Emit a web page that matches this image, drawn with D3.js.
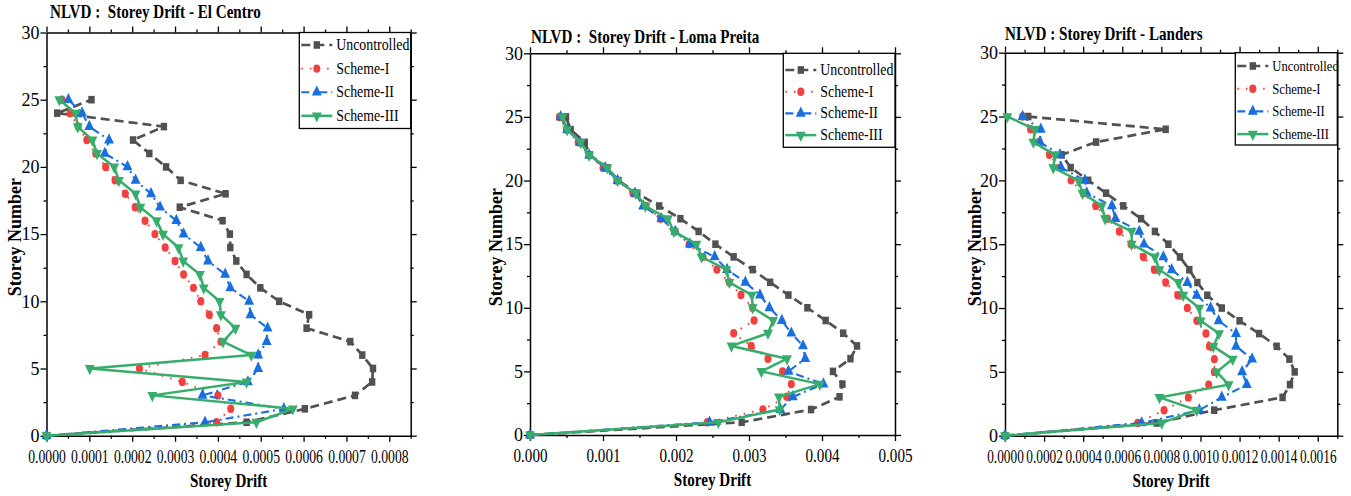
<!DOCTYPE html>
<html>
<head>
<meta charset="utf-8">
<script src="https://cdn.jsdelivr.net/npm/d3@7"></script>
<style>
  body { margin: 0; background: #fff; }
  svg { display: block; font-family: "Liberation Serif", "Times New Roman", serif; }
</style>
</head>
<body>
<svg id="chart" width="1351" height="496"></svg>
<script>
// ---- data -------------------------------------------------------------
const storeys = [0,1,2,3,4,5,6,7,8,9,10,11,12,13,14,15,16,17,18,19,20,21,22,23,24,25];
const seriesNames = ["Uncontrolled", "Scheme-I", "Scheme-II", "Scheme-III"];
const yTicks = [0, 5, 10, 15, 20, 25, 30];

// El Centro (storey 0 .. 25)
const elCentroUncontrolled = [0, 0.000467, 0.000603, 0.00072, 0.00076, 0.000762, 0.000737, 0.000709, 0.000607, 0.000613, 0.000543, 0.000499, 0.000467, 0.000443, 0.000429, 0.000428, 0.000411, 0.000311, 0.000418, 0.000313, 0.000279, 0.00024, 0.000202, 0.000274, 0.000025, 0.000105];
const elCentroSchemeI = [0, 0.000397, 0.00043, 0.0004, 0.000317, 0.000217, 0.00037, 0.000407, 0.000397, 0.00038, 0.00036, 0.000343, 0.00032, 0.0003, 0.000277, 0.000253, 0.00023, 0.000207, 0.000184, 0.00016, 0.000138, 0.000115, 0.000094, 0.000074, 0.000055, 0.000036];
const elCentroSchemeII = [0, 0.00037, 0.000554, 0.000364, 0.00047, 0.000494, 0.000494, 0.000514, 0.000516, 0.000476, 0.000473, 0.000429, 0.000417, 0.000377, 0.00036, 0.00032, 0.000303, 0.000265, 0.000244, 0.000208, 0.000189, 0.000136, 0.000146, 0.0001, 0.000083, 0.000051];
const elCentroSchemeIII = [0, 0.00049, 0.000575, 0.000247, 0.000467, 0.000101, 0.000478, 0.000412, 0.000441, 0.000407, 0.000404, 0.000367, 0.000358, 0.000319, 0.000308, 0.000272, 0.000257, 0.000219, 0.000208, 0.000169, 0.000158, 0.000118, 0.000107, 0.000073, 0.000068, 0.00003];
const elCentroTicks = [0, 0.0001, 0.0002, 0.0003, 0.0004, 0.0005, 0.0006, 0.0007, 0.0008];
const elCentroTickLabels = ["0.0000", "0.0001", "0.0002", "0.0003", "0.0004", "0.0005", "0.0006", "0.0007", "0.0008"];

// Loma Preita
const lomaUncontrolled = [0, 0.0029, 0.00385, 0.00424, 0.00428, 0.00415, 0.00439, 0.00448, 0.00429, 0.00405, 0.0038, 0.00354, 0.00329, 0.00305, 0.00279, 0.00254, 0.00231, 0.00206, 0.00177, 0.00147, 0.00121, 0.00106, 0.00082, 0.00075, 0.000557, 0.000493];
const lomaSchemeI = [0, 0.00243, 0.00319, 0.00352, 0.00358, 0.00346, 0.00326, 0.00303, 0.00279, 0.00307, 0.00305, 0.00289, 0.00273, 0.00256, 0.00237, 0.00218, 0.00199, 0.00179, 0.00159, 0.00141, 0.00119, 0.001, 0.00081, 0.00066, 0.0005, 0.000402];
const lomaSchemeII = [0, 0.00246, 0.00343, 0.0036, 0.00402, 0.00354, 0.00377, 0.00374, 0.00358, 0.00345, 0.00328, 0.00315, 0.00295, 0.0027, 0.00253, 0.00219, 0.00199, 0.0018, 0.00155, 0.00144, 0.0012, 0.00103, 0.00081, 0.000685, 0.00051, 0.00042];
const lomaSchemeIII = [0, 0.00258, 0.00342, 0.00341, 0.00397, 0.00317, 0.00352, 0.00276, 0.00326, 0.00333, 0.00305, 0.00304, 0.00273, 0.00269, 0.00235, 0.00228, 0.00197, 0.00189, 0.00158, 0.00145, 0.0012, 0.00106, 0.00081, 0.000694, 0.00051, 0.000447];
const lomaTicks = [0, 0.001, 0.002, 0.003, 0.004, 0.005];
const lomaTickLabels = ["0.000", "0.001", "0.002", "0.003", "0.004", "0.005"];

// Landers
const landersUncontrolled = [0, 0.000776, 0.00107, 0.00142, 0.001458, 0.001482, 0.001455, 0.00139, 0.0013, 0.0012, 0.001109, 0.001035, 0.000984, 0.000943, 0.000895, 0.000836, 0.000767, 0.000696, 0.000605, 0.000517, 0.000426, 0.000336, 0.00029, 0.000466, 0.000822, 0.000119];
const landersSchemeI = [0, 0.000679, 0.000814, 0.000938, 0.001042, 0.001071, 0.001071, 0.001046, 0.001028, 0.000981, 0.000933, 0.000884, 0.000822, 0.000764, 0.000708, 0.000645, 0.000585, 0.000524, 0.000464, 0.0004, 0.000338, 0.000281, 0.000227, 0.000176, 0.000131, 0.00009];
const landersSchemeII = [0, 0.000699, 0.000994, 0.001109, 0.001237, 0.001213, 0.001264, 0.001182, 0.001182, 0.001093, 0.001052, 0.000981, 0.000933, 0.000853, 0.00081, 0.000711, 0.000687, 0.000565, 0.000547, 0.000418, 0.000409, 0.000287, 0.000281, 0.000179, 0.000183, 0.00009];
const landersSchemeIII = [0, 0.000802, 0.000981, 0.00079, 0.001144, 0.001083, 0.001165, 0.001066, 0.001095, 0.001001, 0.000994, 0.000912, 0.000887, 0.00079, 0.000767, 0.000648, 0.000648, 0.000512, 0.000495, 0.000397, 0.000375, 0.000247, 0.000256, 0.000145, 0.000153, 0.000012];
const landersTicks = [0, 0.0002, 0.0004, 0.0006, 0.0008, 0.001, 0.0012, 0.0014, 0.0016];
const landersTickLabels = ["0.0000", "0.0002", "0.0004", "0.0006", "0.0008", "0.0010", "0.0012", "0.0014", "0.0016"];

// ---- styling of each series ------------------------------------------
const seriesStyles = [
  { color: "#515151", dash: "9,5",     width: 2.7, symbol: d3.symbolSquare,   size: 58, rotate: 0 },
  { color: "#F14040", dash: "1.6,7",   width: 1.9, symbol: d3.symbolCircle,   size: 56, rotate: 0 },
  { color: "#1A6FDF", dash: "8,4,2,4", width: 2.1, symbol: d3.symbolTriangle, size: 60, rotate: 0 },
  { color: "#37AD6B", dash: null,      width: 2.5, symbol: d3.symbolTriangle, size: 60, rotate: 180 }
];

// ---- panel layout ------------------------------------------------------
const panels = [
  { title: "NLVD :  Storey Drift - El Centro", titleX: 50, titleY: 18,
    left: 46.5, right: 410.7, top: 32.5, bottom: 435.7, xMax: 0.00085, minorStep: 0.00005,
    ticks: elCentroTicks, tickLabels: elCentroTickLabels, tickSx: 0.76,
    series: [elCentroUncontrolled, elCentroSchemeI, elCentroSchemeII, elCentroSchemeIII],
    yTitleX: 21, legendX: 299.3, legendH: 96, legendRow0: 12.5, legendRowGap: 23.6, legendFont: 16.5 },
  { title: "NLVD :  Storey Drift - Loma Preita", titleX: 531, titleY: 42.5,
    left: 530, right: 895, top: 53.3, bottom: 435, xMax: 0.005, minorStep: 0.0005,
    ticks: lomaTicks, tickLabels: lomaTickLabels, tickSx: 0.84,
    series: [lomaUncontrolled, lomaSchemeI, lomaSchemeII, lomaSchemeIII],
    yTitleX: 502, legendX: 783.3, legendH: 94, legendRow0: 16.7, legendRowGap: 21.7, legendFont: 16.5 },
  { title: "NLVD : Storey Drift - Landers", titleX: 1005, titleY: 40,
    left: 1005, right: 1337.3, top: 52.7, bottom: 435.7, xMax: 0.0017, minorStep: 0.0001,
    ticks: landersTicks, tickLabels: landersTickLabels, tickSx: 0.74,
    series: [landersUncontrolled, landersSchemeI, landersSchemeII, landersSchemeIII],
    yTitleX: 981, legendX: 1235.3, legendH: 92.3, legendRow0: 13.3, legendRowGap: 22.7, legendFont: 15 }
];

const svg = d3.select("#chart");
const TEXT_SX = 0.84;   // horizontally condensed lettering

function styleAxis(sel, fontSize) {
  sel.attr("font-family", null).attr("font-size", fontSize);
  sel.select(".domain").attr("stroke", "#000").attr("stroke-width", 1.5);
  sel.selectAll(".tick line").attr("stroke", "#000").attr("stroke-width", 1.3);
  sel.selectAll("text").attr("fill", "#000");
}

panels.forEach(p => {
  const g = svg.append("g");
  const x = d3.scaleLinear().domain([0, p.xMax]).range([p.left, p.right]);
  const y = d3.scaleLinear().domain([0, 30]).range([p.bottom, p.top]);

  const majorStep = p.minorStep * 2;
  const xMinor = d3.range(p.minorStep, p.xMax + 1e-12, majorStep);
  const yMinor = [2.5, 7.5, 12.5, 17.5, 22.5, 27.5];

  // minor ticks on all four sides
  const minorAxes = [
    [d3.axisBottom(x).tickValues(xMinor), `translate(0,${p.bottom})`],
    [d3.axisTop(x).tickValues(xMinor), `translate(0,${p.top})`],
    [d3.axisLeft(y).tickValues(yMinor), `translate(${p.left},0)`],
    [d3.axisRight(y).tickValues(yMinor), `translate(${p.right},0)`]
  ];
  minorAxes.forEach(([ax, tr]) => {
    const a = g.append("g").attr("transform", tr)
      .call(ax.tickSize(3).tickSizeOuter(0).tickFormat(""));
    styleAxis(a, 10);
    a.select(".domain").remove();
  });

  // major ticks: labelled bottom and left, bare top and right
  const bottom = g.append("g").attr("transform", `translate(0,${p.bottom})`)
    .call(d3.axisBottom(x).tickValues(p.ticks).tickFormat((d, i) => p.tickLabels[i]).tickSize(6).tickSizeOuter(0));
  styleAxis(bottom, 18);
  bottom.selectAll("text").attr("y", 27.5).attr("dy", null)
    .attr("transform", `scale(${p.tickSx},1)`);

  const top = g.append("g").attr("transform", `translate(0,${p.top})`)
    .call(d3.axisTop(x).tickValues(p.ticks).tickFormat("").tickSize(6).tickSizeOuter(0));
  styleAxis(top, 10);

  const left = g.append("g").attr("transform", `translate(${p.left},0)`)
    .call(d3.axisLeft(y).tickValues(yTicks).tickSize(6).tickSizeOuter(0));
  styleAxis(left, 18);
  left.selectAll("text").attr("x", -7).attr("dy", "0.32em");

  const right = g.append("g").attr("transform", `translate(${p.right},0)`)
    .call(d3.axisRight(y).tickValues(yTicks).tickFormat("").tickSize(6).tickSizeOuter(0));
  styleAxis(right, 10);

  // series: lines first, then markers, in legend order
  const line = d3.line().x(d => x(d.v)).y(d => y(d.s));
  p.series.forEach((vals, k) => {
    const st = seriesStyles[k];
    const pts = storeys.map((s, i) => ({ s, v: vals[i] }));
    g.append("path").datum(pts)
      .attr("d", line)
      .attr("fill", "none")
      .attr("stroke", st.color)
      .attr("stroke-width", st.width)
      .attr("stroke-dasharray", st.dash)
      .attr("stroke-linejoin", "round");
    g.append("g").selectAll("path").data(pts).join("path")
      .attr("d", d3.symbol().type(st.symbol).size(st.size))
      .attr("transform", d => `translate(${x(d.v)},${y(d.s)}) scale(${TEXT_SX},1) rotate(${st.rotate})`)
      .attr("fill", st.color);
  });

  // legend
  const lg = g.append("g").attr("transform", `translate(${p.legendX},${p.top})`);
  lg.append("rect")
    .attr("width", p.right - p.legendX).attr("height", p.legendH)
    .attr("fill", "#fff").attr("stroke", "#000").attr("stroke-width", 1.3);
  seriesNames.forEach((name, k) => {
    const st = seriesStyles[k];
    const ry = p.legendRow0 + k * p.legendRowGap;
    lg.append("line")
      .attr("x1", 2).attr("x2", 33).attr("y1", ry).attr("y2", ry)
      .attr("stroke", st.color).attr("stroke-width", st.width)
      .attr("stroke-dasharray", st.dash);
    lg.append("path")
      .attr("d", d3.symbol().type(st.symbol).size(st.size)())
      .attr("transform", `translate(17.5,${ry}) scale(${TEXT_SX},1) rotate(${st.rotate})`)
      .attr("fill", st.color);
    lg.append("text")
      .attr("transform", `translate(37,${ry + 5}) scale(${TEXT_SX},1)`)
      .attr("font-size", p.legendFont)
      .attr("fill", "#000")
      .text(name);
  });

  // titles
  g.append("text")
    .attr("transform", `translate(${p.titleX},${p.titleY}) scale(${TEXT_SX},1)`)
    .attr("font-size", 18).attr("font-weight", "bold")
    .style("white-space", "pre")
    .text(p.title);

  g.append("text")
    .attr("transform", `translate(${(p.left + p.right) / 2},${p.bottom + 51}) scale(${TEXT_SX},1)`)
    .attr("text-anchor", "middle")
    .attr("font-size", 18).attr("font-weight", "bold")
    .text("Storey Drift");

  g.append("text")
    .attr("transform", `translate(${p.yTitleX},${(p.top + p.bottom) / 2 + 3}) rotate(-90)`)
    .attr("text-anchor", "middle")
    .attr("font-size", 18).attr("font-weight", "bold")
    .text("Storey Number");
});
</script>
</body>
</html>
